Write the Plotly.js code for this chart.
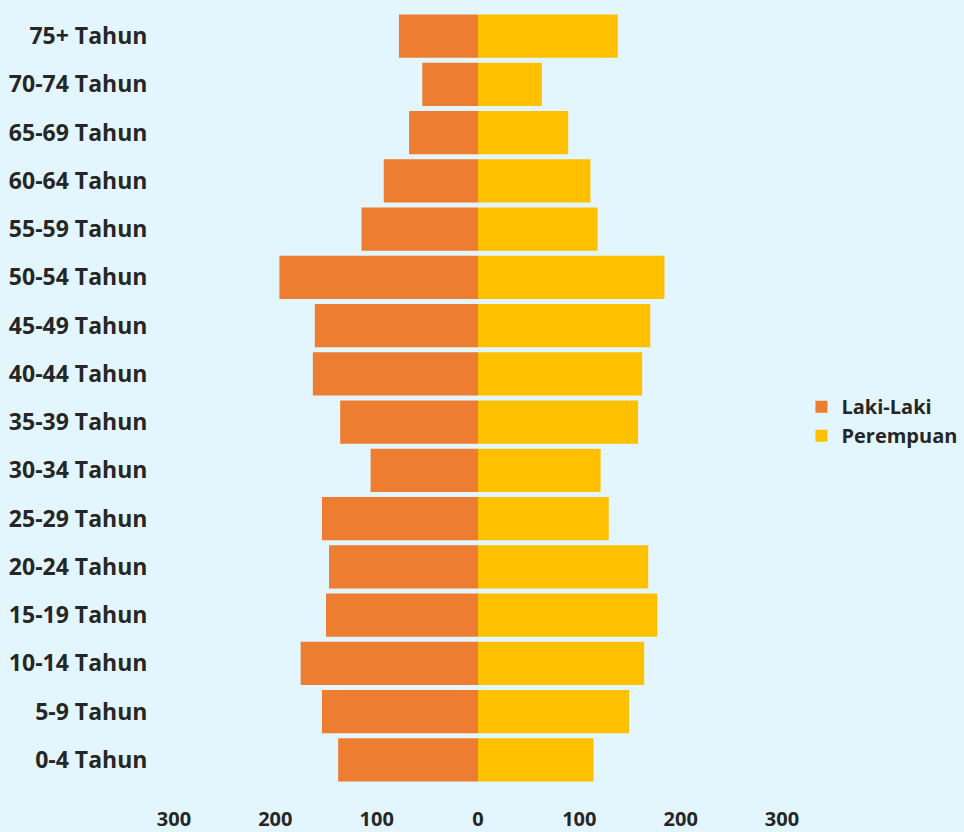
<!DOCTYPE html>
<html>
<head>
<meta charset="utf-8">
<script src="https://cdn.plot.ly/plotly-3.0.1.min.js"></script>
<style>
html,body{margin:0;padding:0;background:#E4F6FD;}
#chart{width:964px;height:832px;}
</style>
</head>
<body>
<div id="chart"></div>
<script>
const categories = ["0-4 Tahun","5-9 Tahun","10-14 Tahun","15-19 Tahun","20-24 Tahun","25-29 Tahun","30-34 Tahun","35-39 Tahun","40-44 Tahun","45-49 Tahun","50-54 Tahun","55-59 Tahun","60-64 Tahun","65-69 Tahun","70-74 Tahun","75+ Tahun"];
const lakiLaki = [138,154,175,150,147,154,106,136,163,161,196,115,93,68,55,78];
const perempuan = [114,149,164,177,168,129,121,158,162,170,184,118,111,89,63,138];
const tickVals = [-300,-200,-100,0,100,200,300];
const tickText = ["300","200","100","0","100","200","300"];

const fontFam = "'Open Sans', 'Noto Sans', sans-serif";

const traces = [
  {
    type: 'bar', orientation: 'h', name: 'Laki-Laki',
    y: categories, x: lakiLaki.map(v => -v),
    customdata: lakiLaki,
    hovertemplate: '%{y}: %{customdata}<extra>Laki-Laki</extra>',
    marker: {color: '#ED7D31'}
  },
  {
    type: 'bar', orientation: 'h', name: 'Perempuan',
    y: categories, x: perempuan,
    hovertemplate: '%{y}: %{x}<extra>Perempuan</extra>',
    marker: {color: '#FFC000'}
  }
];

const layout = {
  width: 964, height: 832,
  paper_bgcolor: '#E4F6FD', plot_bgcolor: '#E4F6FD',
  margin: {l: 174, r: 182, t: 12, b: 48, autoexpand: false},
  barmode: 'overlay', bargap: 0.1,
  font: {family: fontFam, color: '#262626'},
  xaxis: {
    range: [-300, 300], tickvals: tickVals, ticktext: tickText,
    showgrid: false, zeroline: false, showline: false, automargin: false,
    tickfont: {size: 20, family: fontFam, weight: 'bold', color: '#262626'},
    ticks: 'outside', ticklen: 17, tickcolor: 'rgba(0,0,0,0)', fixedrange: true
  },
  yaxis: {
    type: 'category', categoryorder: 'array', categoryarray: categories,
    showgrid: false, zeroline: false, showline: false, automargin: false,
    tickfont: {size: 23, family: fontFam, weight: 'bold', color: '#262626'},
    ticks: 'outside', ticklen: 21, tickcolor: 'rgba(0,0,0,0)', fixedrange: true
  },
  legend: {
    x: 1.032, y: 0.47, xanchor: 'left', yanchor: 'middle',
    font: {size: 20, family: fontFam, weight: 'bold', color: '#262626'},
    bgcolor: 'rgba(0,0,0,0)', itemwidth: 30
  },
  showlegend: true
};

Plotly.newPlot('chart', traces, layout, {displayModeBar: false});
</script>
</body>
</html>
